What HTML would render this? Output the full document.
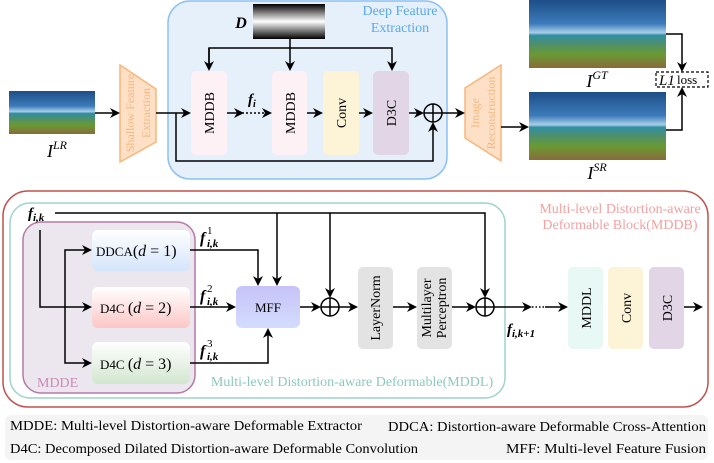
<!DOCTYPE html>
<html><head><meta charset="utf-8"><style>
html,body{margin:0;padding:0;background:#fff}
svg{display:block}
text{font-family:"Liberation Serif",serif}
.m{font-style:italic;font-weight:bold}
</style></head><body>
<svg width="714" height="463" viewBox="0 0 714 463" xmlns="http://www.w3.org/2000/svg">
<defs>
<marker id="a" markerWidth="10" markerHeight="10" refX="8" refY="5" orient="auto" markerUnits="userSpaceOnUse"><path d="M0,0 L10,5 L0,10 L3,5 z" fill="#000"/></marker>
<linearGradient id="pano" x1="0" y1="0" x2="0" y2="1">
<stop offset="0" stop-color="#1d4e86"/><stop offset="0.35" stop-color="#3d7bbb"/><stop offset="0.48" stop-color="#a9cfe8"/><stop offset="0.52" stop-color="#2f8fa3"/><stop offset="0.65" stop-color="#4f8f6a"/><stop offset="0.8" stop-color="#6a9a33"/><stop offset="1" stop-color="#8a6a3a"/></linearGradient>
<linearGradient id="dg" x1="0" y1="0" x2="0" y2="1"><stop offset="0" stop-color="#000"/><stop offset="0.5" stop-color="#fff"/><stop offset="1" stop-color="#000"/></linearGradient>
<linearGradient id="gb" x1="0" y1="0" x2="0" y2="1"><stop offset="0" stop-color="#fff"/><stop offset="1" stop-color="#d4e4fb"/></linearGradient>
<linearGradient id="gr" x1="0" y1="0" x2="0" y2="1"><stop offset="0" stop-color="#fff"/><stop offset="1" stop-color="#fcc6c6"/></linearGradient>
<linearGradient id="gg" x1="0" y1="0" x2="0" y2="1"><stop offset="0" stop-color="#fff"/><stop offset="1" stop-color="#d2e6cf"/></linearGradient>
<linearGradient id="gm" x1="0" y1="0" x2="0" y2="1"><stop offset="0" stop-color="#c7c3f8"/><stop offset="1" stop-color="#d3dcfd"/></linearGradient>
</defs>
<rect x="168" y="1" width="279" height="178" rx="22" fill="#e6f0fb" stroke="#8cc1f3" stroke-width="1.5"/>
<text x="400" y="15" font-size="14" fill="#5aa9f0" text-anchor="middle">Deep Feature</text>
<text x="400" y="32" font-size="14" fill="#5aa9f0" text-anchor="middle">Extraction</text>
<text x="241" y="28" font-size="16" font-style="italic" font-weight="bold" text-anchor="middle">D</text>
<rect x="253" y="4" width="72" height="35" fill="url(#dg)"/>
<rect x="9" y="91" width="86" height="43" fill="url(#pano)"/>
<rect x="529" y="0" width="137" height="68" fill="url(#pano)"/>
<rect x="529" y="92" width="137" height="68" fill="url(#pano)"/>
<text x="57" y="157" font-size="18" font-style="italic" text-anchor="middle">I<tspan font-size="12" dy="-8">LR</tspan></text>
<text x="597" y="87" font-size="18" font-style="italic" text-anchor="middle">I<tspan font-size="12" dy="-8">GT</tspan></text>
<text x="597" y="179" font-size="18" font-style="italic" text-anchor="middle">I<tspan font-size="12" dy="-8">SR</tspan></text>
<polygon points="120,65 156,89 156,142 120,162" fill="#fde0c5" stroke="#f8b67a" stroke-width="1.5"/>
<text transform="translate(134,113) rotate(-90)" font-size="12" fill="#f5b784" text-anchor="middle">Shallow Feature</text>
<text transform="translate(150,113) rotate(-90)" font-size="12" fill="#f5b784" text-anchor="middle">Extraction</text>
<polygon points="465,88 501,65 501,161 465,138" fill="#fde0c5" stroke="#f8b67a" stroke-width="1.5"/>
<text transform="translate(479,113) rotate(-90)" font-size="12" fill="#f5b784" text-anchor="middle">Image</text>
<text transform="translate(495,113) rotate(-90)" font-size="12" fill="#f5b784" text-anchor="middle">Reconstruction</text>
<rect x="191" y="71" width="36" height="84" rx="5" fill="#fdf1f5"/>
<rect x="272" y="71" width="35" height="84" rx="5" fill="#fdf1f5"/>
<rect x="323" y="71" width="36" height="84" rx="5" fill="#fdf3d6"/>
<rect x="373" y="71" width="36" height="84" rx="5" fill="#e2d5e6"/>
<text transform="translate(214,113) rotate(-90)" font-size="14" text-anchor="middle">MDDB</text>
<text transform="translate(295,113) rotate(-90)" font-size="14" text-anchor="middle">MDDB</text>
<text transform="translate(346,113) rotate(-90)" font-size="14" text-anchor="middle">Conv</text>
<text transform="translate(396,113) rotate(-90)" font-size="14" text-anchor="middle">D3C</text>
<text x="248" y="104" font-size="15" class="m">f<tspan font-size="10" dy="3">i</tspan></text>
<g fill="none" stroke="#000" stroke-width="1.5">
<path d="M95,113 H118" marker-end="url(#a)"/>
<path d="M156,113 H189" marker-end="url(#a)"/>
<path d="M176,113 V161 H433 V124" marker-end="url(#a)"/>
<path d="M290,39 V69" marker-end="url(#a)"/>
<path d="M209,69 V48 H392 V69" marker-end="url(#a)"/>
<path d="M209,48 V69" marker-end="url(#a)"/>
<path d="M227,113 H242" marker-end="url(#a)"/>
<path d="M242,113 H270" stroke-dasharray="2,2" marker-end="url(#a)"/>
<path d="M307,113 H321" marker-end="url(#a)"/>
<path d="M359,113 H371" marker-end="url(#a)"/>
<path d="M409,113 H422" marker-end="url(#a)"/>
<circle cx="433" cy="113" r="9"/><path d="M424,113 H442 M433,104 V122"/>
<path d="M442,113 H463" marker-end="url(#a)"/>
<path d="M501,127 H527" marker-end="url(#a)"/>
<path d="M666,34 H682 V70" marker-end="url(#a)"/>
<path d="M666,130 H682 V89" marker-end="url(#a)"/>
<rect x="656" y="72" width="52" height="15" stroke-dasharray="3,2" stroke-width="1.2"/>
</g>
<text x="659" y="85" font-size="15" font-style="italic">L1</text>
<text x="677" y="84" font-size="13" font-family="Liberation Sans">loss</text>
<g fill="none" stroke-width="1.5">
<rect x="3" y="191" width="705" height="216" rx="25" stroke="#c0504d"/>
<rect x="10" y="203" width="495" height="195" rx="20" stroke="#9fd4c9"/>
<rect x="23" y="222" width="172" height="171" rx="18" fill="#ece6ee" stroke="#b57aa8"/>
</g>
<text x="620" y="213" font-size="14" fill="#f4a0a0" text-anchor="middle">Multi-level Distortion-aware</text>
<text x="620" y="229" font-size="14" fill="#f4a0a0" text-anchor="middle">Deformable Block(MDDB)</text>
<text x="352" y="386" font-size="14" fill="#8cc9b9" text-anchor="middle">Multi-level Distortion-aware Deformable(MDDL)</text>
<text x="37" y="387" font-size="14" fill="#c98bb8">MDDE</text>
<rect x="92" y="230" width="98" height="41" rx="6" fill="url(#gb)"/>
<rect x="92" y="287" width="98" height="41" rx="6" fill="url(#gr)"/>
<rect x="92" y="342" width="98" height="42" rx="6" fill="url(#gg)"/>
<text x="96" y="256" font-size="13">DDCA<tspan font-size="16">(<tspan font-style="italic">d</tspan> = 1)</tspan></text>
<text x="100" y="313" font-size="13">D4C <tspan font-size="16">(<tspan font-style="italic">d</tspan> = 2)</tspan></text>
<text x="100" y="369" font-size="13">D4C <tspan font-size="16">(<tspan font-style="italic">d</tspan> = 3)</tspan></text>
<rect x="236" y="286" width="64" height="42" rx="6" fill="url(#gm)"/>
<text x="268" y="312" font-size="13" text-anchor="middle">MFF</text>
<rect x="358" y="267" width="35" height="82" rx="5" fill="#e3e3e3"/>
<rect x="417" y="267" width="35" height="82" rx="5" fill="#e3e3e3"/>
<text transform="translate(380,308) rotate(-90)" font-size="14" text-anchor="middle">LayerNorm</text>
<text transform="translate(431,308) rotate(-90)" font-size="14" text-anchor="middle">Multilayer</text>
<text transform="translate(446,308) rotate(-90)" font-size="14" text-anchor="middle">Perceptron</text>
<rect x="568" y="267" width="35" height="82" rx="5" fill="#e8f8f5"/>
<rect x="608" y="267" width="35" height="82" rx="5" fill="#fdf3d6"/>
<rect x="649" y="267" width="35" height="82" rx="5" fill="#e2d5e6"/>
<text transform="translate(591,308) rotate(-90)" font-size="14" text-anchor="middle">MDDL</text>
<text transform="translate(631,308) rotate(-90)" font-size="14" text-anchor="middle">Conv</text>
<text transform="translate(672,308) rotate(-90)" font-size="14" text-anchor="middle">D3C</text>
<text x="28" y="218" font-size="15" class="m">f<tspan font-size="11" dy="3">i,k</tspan></text>
<g font-style="italic" font-weight="bold">
<text x="200" y="243" font-size="16">f</text><text x="207" y="234" font-size="11" font-weight="normal" font-style="normal">1</text><text x="207" y="247" font-size="11">i,k</text>
<text x="200" y="301" font-size="16">f</text><text x="207" y="292" font-size="11" font-weight="normal" font-style="normal">2</text><text x="207" y="305" font-size="11">i,k</text>
<text x="200" y="356" font-size="16">f</text><text x="207" y="347" font-size="11" font-weight="normal" font-style="normal">3</text><text x="207" y="360" font-size="11">i,k</text>
</g>
<text x="507" y="334" font-size="15" class="m">f<tspan font-size="11" dy="3">i,k+1</tspan></text>
<g fill="none" stroke="#000" stroke-width="1.5">
<path d="M55,213 H485 V296" marker-end="url(#a)"/>
<path d="M277,213 V284" marker-end="url(#a)"/>
<path d="M330,213 V296" marker-end="url(#a)"/>
<path d="M40,230 V307 H90" marker-end="url(#a)"/>
<path d="M65,307 V250 H90" marker-end="url(#a)"/>
<path d="M65,307 V363 H90" marker-end="url(#a)"/>
<path d="M190,250 H258 V284" marker-end="url(#a)"/>
<path d="M190,307 H234" marker-end="url(#a)"/>
<path d="M190,363 H268 V330" marker-end="url(#a)"/>
<path d="M300,307 H319" marker-end="url(#a)"/>
<circle cx="330" cy="307" r="9"/><path d="M321,307 H339 M330,298 V316"/>
<path d="M339,307 H356" marker-end="url(#a)"/>
<path d="M393,307 H415" marker-end="url(#a)"/>
<path d="M452,307 H474" marker-end="url(#a)"/>
<circle cx="485" cy="307" r="9"/><path d="M476,307 H494 M485,298 V316"/>
<path d="M494,307 H530" marker-end="url(#a)"/>
<path d="M532,307 H545" stroke-dasharray="1.5,2"/>
<path d="M545,307 H566" marker-end="url(#a)"/>
<path d="M684,307 H701" marker-end="url(#a)"/>
</g>
<rect x="5" y="415" width="703" height="45" rx="6" fill="#f4f4f4"/>
<text x="10" y="430" font-size="14" textLength="352" lengthAdjust="spacingAndGlyphs">MDDE: Multi-level Distortion-aware Deformable Extractor</text>
<text x="706" y="431" font-size="14" text-anchor="end" textLength="318" lengthAdjust="spacingAndGlyphs">DDCA: Distortion-aware Deformable Cross-Attention</text>
<text x="10" y="453" font-size="14" textLength="408" lengthAdjust="spacingAndGlyphs">D4C: Decomposed Dilated Distortion-aware Deformable Convolution</text>
<text x="706" y="453" font-size="14" text-anchor="end" textLength="200" lengthAdjust="spacingAndGlyphs">MFF: Multi-level Feature Fusion</text>
</svg>
</body></html>
